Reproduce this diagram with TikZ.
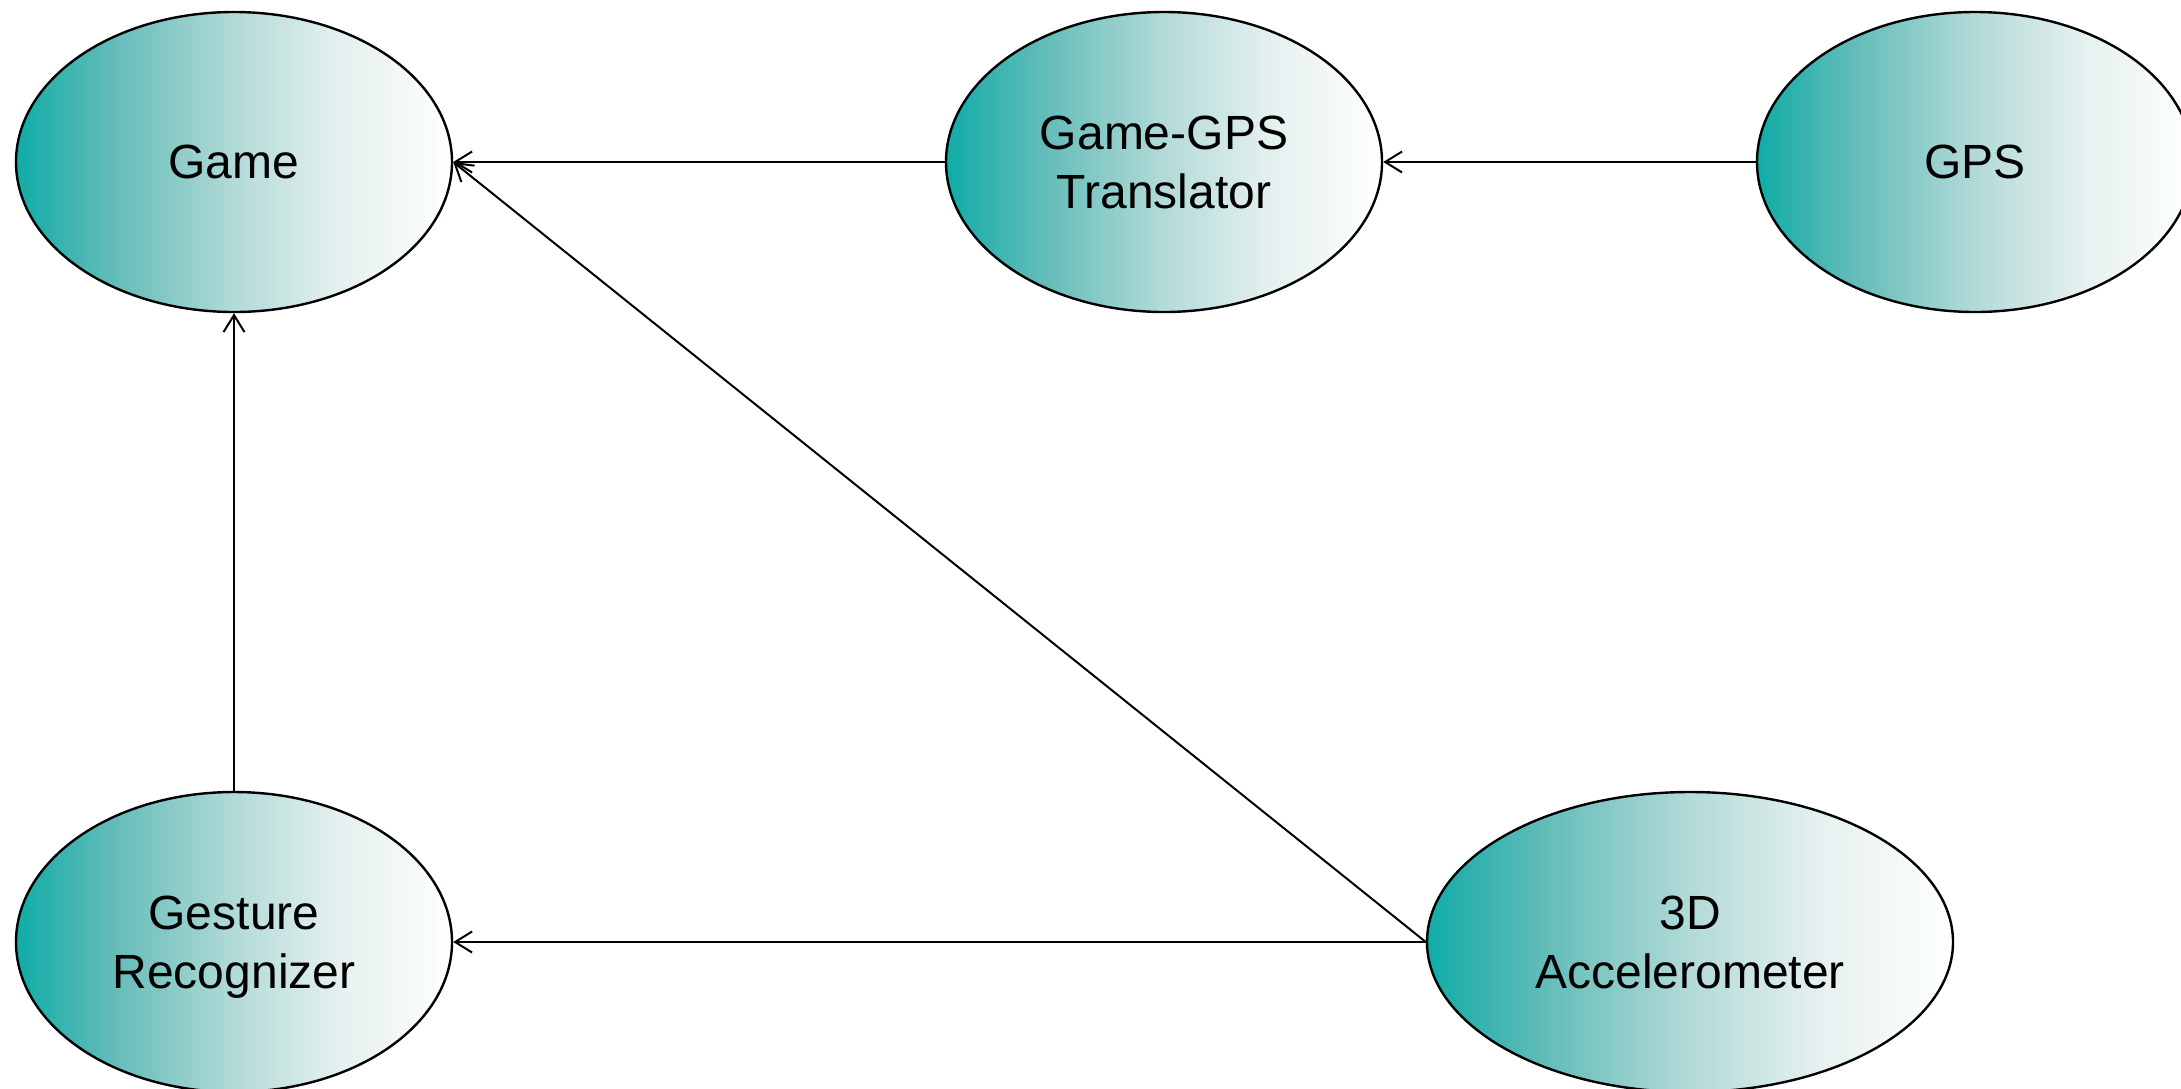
\documentclass[tikz,border=0pt]{standalone}
\usepackage{fontspec}
\setmainfont{Liberation Sans}
\usetikzlibrary{arrows.meta,shapes.geometric}

\definecolor{tealdeep}{RGB}{16,172,167}
\definecolor{tealmid}{RGB}{98,188,184}
\definecolor{teallight}{RGB}{178,218,216}
\definecolor{tealpale}{RGB}{228,240,239}

% horizontal fill: deep teal on the left fading to white on the right
\pgfdeclarehorizontalshading{ovalfade}{100bp}{%
  color(0bp)=(tealdeep); color(25bp)=(tealdeep);
  color(36bp)=(tealmid); color(50bp)=(teallight);
  color(62bp)=(tealpale); color(75bp)=(white); color(100bp)=(white)}

\tikzset{
  oval/.style={ellipse, draw=black, line width=2.4pt, shading=ovalfade,
    minimum width=436pt, minimum height=300pt, inner sep=0pt,
    align=center, text depth=0pt, font=\fontsize{48}{59}\selectfont},
  wideoval/.style={oval, minimum width=526pt},
  link/.style={line width=2pt, -{Straight Barb[length=17pt,width=21pt,line width=2pt]}}
}

\begin{document}
\begin{tikzpicture}[x=1pt,y=-1pt]
  \useasboundingbox (0,0) rectangle (2181,1088);

  \node[oval] (game)  at (234,162)  {Game};
  \node[oval] (trans) at (1164,162) {Game-GPS\\Translator};
  \node[oval] (gps)   at (1975,162) {GPS};
  \node[oval] (gest)  at (234,942)  {Gesture\\Recognizer};
  \node[wideoval] (accel) at (1690,942) {3D\\Accelerometer};

  \draw[link] (trans.west) -- (game.east);
  \draw[link] (gps.west) -- (trans.east);
  \draw[link] (gest.north) -- (game.south);
  \draw[link] (accel.west) -- (gest.east);
  \draw[link] (accel.west) -- (game.east);
\end{tikzpicture}
\end{document}
